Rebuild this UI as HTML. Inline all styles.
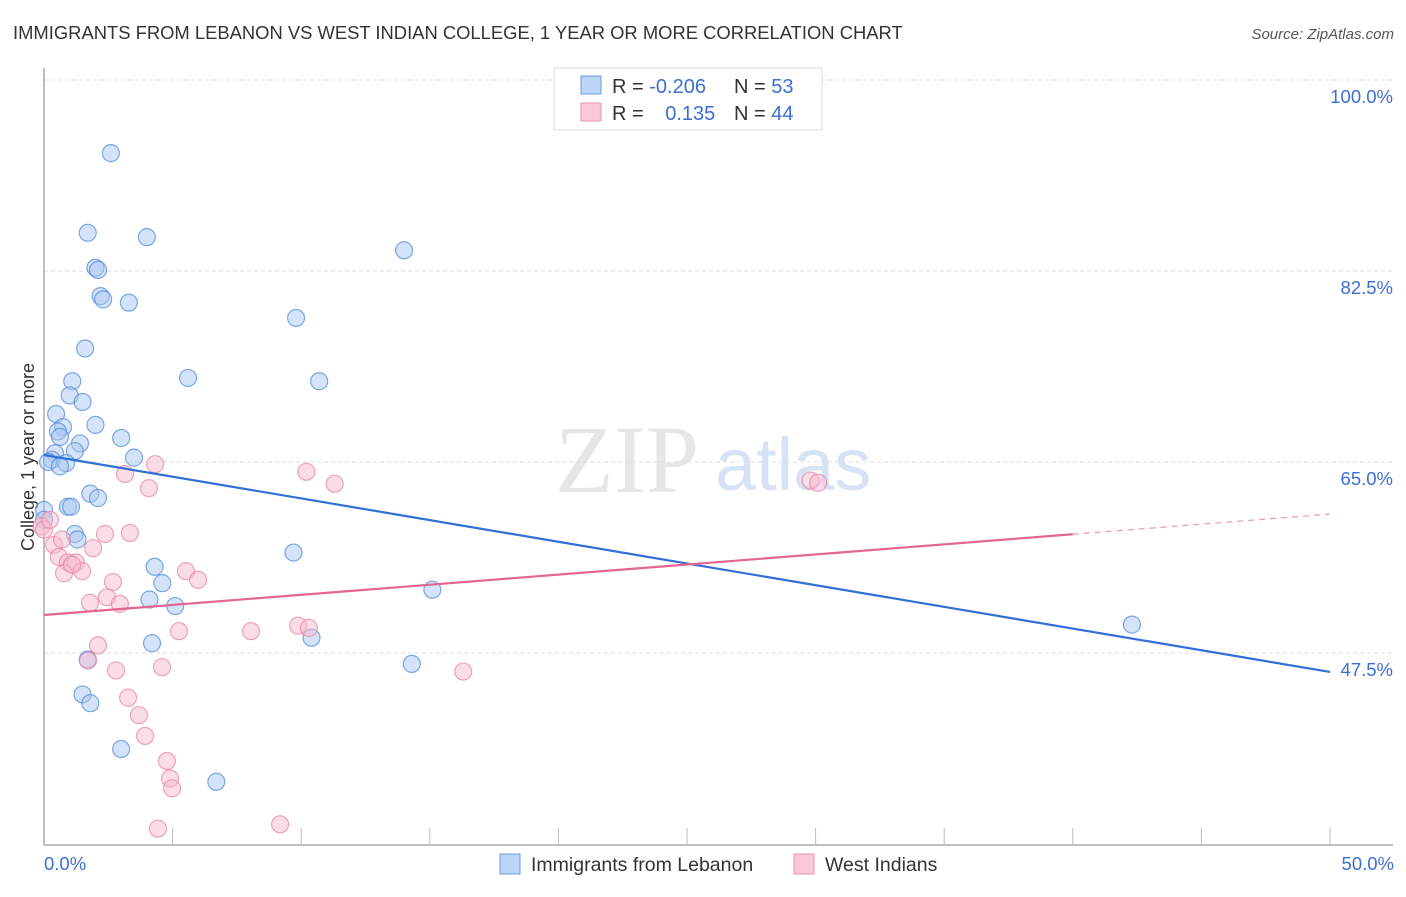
<!DOCTYPE html>
<html><head><meta charset="utf-8"><style>
body{margin:0;background:#fff;font-family:"Liberation Sans",sans-serif}
</style></head><body>
<svg id="chart" width="1406" height="892" viewBox="0 0 1406 892" xmlns="http://www.w3.org/2000/svg" font-family="Liberation Sans, sans-serif">
<text x="13" y="39" font-size="18.4" fill="#333">IMMIGRANTS FROM LEBANON VS WEST INDIAN COLLEGE, 1 YEAR OR MORE CORRELATION CHART</text>
<text x="1394" y="39" font-size="15" fill="#555" text-anchor="end" font-style="italic">Source: ZipAtlas.com</text>
<text x="555" y="492" font-size="96" fill="#e6e6e6" font-family="Liberation Serif, serif">ZIP</text>
<text x="715" y="490" font-size="74" fill="#d7e3f4">atlas</text>
<text transform="translate(34,457) rotate(-90)" font-size="18" fill="#333" text-anchor="middle">College, 1 year or more</text>
<g id="grid"></g><g id="marks"></g>
<g>
<rect x="554" y="68" width="268" height="62" fill="#fff" stroke="#ddd"/>
<rect x="581" y="76" width="20" height="18" fill="#bcd4f5" stroke="#6a9be0"/>
<rect x="581" y="103" width="20" height="18" fill="#fbc9d8" stroke="#ec93b0"/>
<text x="612" y="93" font-size="20" fill="#333">R = <tspan fill="#3b6fd1">-0.206</tspan></text>
<text x="734" y="93" font-size="20" fill="#333">N = <tspan fill="#3b6fd1">53</tspan></text>
<text x="612" y="120" font-size="20" fill="#333">R = <tspan fill="#3b6fd1" dx="16">0.135</tspan></text>
<text x="734" y="120" font-size="20" fill="#333">N = <tspan fill="#3b6fd1">44</tspan></text>
</g>
<g>
<rect x="500" y="854" width="20" height="20" fill="#bcd4f5" stroke="#6a9be0"/>
<text x="531" y="871" font-size="19.5" fill="#333">Immigrants from Lebanon</text>
<rect x="794" y="854" width="20" height="20" fill="#fbc9d8" stroke="#ec93b0"/>
<text x="825" y="871" font-size="19.5" fill="#333">West Indians</text>
</g>
</svg>
<script>
const yTicks=[100,82.5,65,47.5];
const xTickLabels=["0.0%","50.0%"];
const blueX=[2.6,1.7,4.0,14.0,2.0,2.1,2.2,2.3,3.3,9.8,1.6,5.6,10.7,1.1,1.0,1.5,0.47,0.74,0.54,0.62,3.0,1.4,2.0,1.2,0.43,3.5,0.31,0.86,0.16,0.62,1.8,2.1,0.93,1.05,0.0,1.2,1.3,9.7,4.3,4.6,15.1,4.1,5.1,42.3,4.2,10.4,1.7,14.3,1.5,1.8,3.0,6.7,0.0];
const blueY=[93.3,86.0,85.6,84.4,82.8,82.6,80.2,79.9,79.6,78.2,75.4,72.7,72.4,72.4,71.1,70.5,69.4,68.2,67.8,67.3,67.2,66.7,68.4,66.0,65.8,65.4,65.2,64.9,65.0,64.6,62.1,61.7,60.9,60.9,60.6,58.4,57.9,56.7,55.4,53.9,53.3,52.4,51.8,50.1,48.4,48.9,46.9,46.5,43.7,42.9,38.7,35.7,59.7];
const pinkX=[-0.1,0.39,0.58,0.93,1.24,0.78,1.48,1.91,2.37,3.34,4.32,3.15,4.08,10.2,11.3,29.8,30.1,2.68,2.45,1.79,2.95,5.52,5.99,2.1,5.25,8.05,9.88,10.3,1.71,2.8,4.59,16.3,3.27,3.69,3.93,4.78,4.9,4.98,4.43,9.18,0.0,1.09,0.23,0.70];
const pinkY=[59.1,57.4,56.3,55.8,55.8,54.8,55.0,57.1,58.4,58.5,64.8,63.9,62.6,64.1,63.0,63.3,63.1,54.0,52.6,52.1,52.0,55.0,54.2,48.2,49.5,49.5,50.0,49.8,46.8,45.9,46.2,45.8,43.4,41.8,39.9,37.6,36.0,35.1,31.4,31.8,58.8,55.6,59.7,57.9];
const blueFit=[65.64,45.76], pinkFit=[50.98,60.23], pinkSolidEnd=40.0;
const NS="http://www.w3.org/2000/svg";
const X=v=>44+v*25.72, Y=v=>80+(100-v)*10.914;
function mk(t,a,p){const e=document.createElementNS(NS,t);for(const k in a)e.setAttribute(k,a[k]);p.appendChild(e);return e;}
const g=document.getElementById('grid'), m=document.getElementById('marks');
yTicks.forEach(t=>{
 const l=mk('line',{x1:44,x2:1393,y1:Y(t),y2:Y(t),stroke:'#ddd','stroke-dasharray':'4,3'},g);
 
 
 const tx=mk('text',{x:1393,y:Y(t)+23,'font-size':18.5,fill:'#3b6fd1','text-anchor':'end'},g);
 tx.textContent=(t.toFixed(1))+'%';
 
 
});
const ax=mk('line',{x1:44,x2:44,y1:68,y2:845,stroke:'#aaa','stroke-width':1.5},g);


const bx=mk('line',{x1:44,x2:1393,y1:845,y2:845,stroke:'#aaa','stroke-width':1.5},g);


for(let i=1;i<=10;i++){const t=mk('line',{x1:X(i*5),x2:X(i*5),y1:828,y2:845,stroke:'#bbb'},g);
 
 }
[[0,'start',44],[1,'end',1394]].forEach(([i,a,x])=>{const t=mk('text',{x:x,y:870,'font-size':18.5,fill:'#3b6fd1','text-anchor':a},g);t.textContent=xTickLabels[i];
 
 });
function pts(xs,ys,f,s,name){xs.forEach((x,i)=>{const c=mk('circle',{cx:X(x),cy:Y(ys[i]),r:8.5,fill:f,'fill-opacity':0.5,stroke:s,'stroke-opacity':0.7,'stroke-width':1.2},m);
 
 });}
pts(blueX,blueY,'#aac8f0','#4a86dc','lebanon-point');
pts(pinkX,pinkY,'#f8bcd0','#e87fa3','west-indian-point');
const bl=mk('line',{x1:X(0),y1:Y(blueFit[0]),x2:X(50),y2:Y(blueFit[1]),stroke:'#2f6fd6','stroke-width':2.2},m);


const pe=pinkFit[0]+(pinkFit[1]-pinkFit[0])*pinkSolidEnd/50;
const pl=mk('line',{x1:X(0),y1:Y(pinkFit[0]),x2:X(pinkSolidEnd),y2:Y(pe),stroke:'#e2668f','stroke-width':2.2},m);


const pd=mk('line',{x1:X(pinkSolidEnd),y1:Y(pe),x2:X(50),y2:Y(pinkFit[1]),stroke:'#e899b3','stroke-width':1.2,'stroke-dasharray':'6,5'},m);


</script>
</body></html>
